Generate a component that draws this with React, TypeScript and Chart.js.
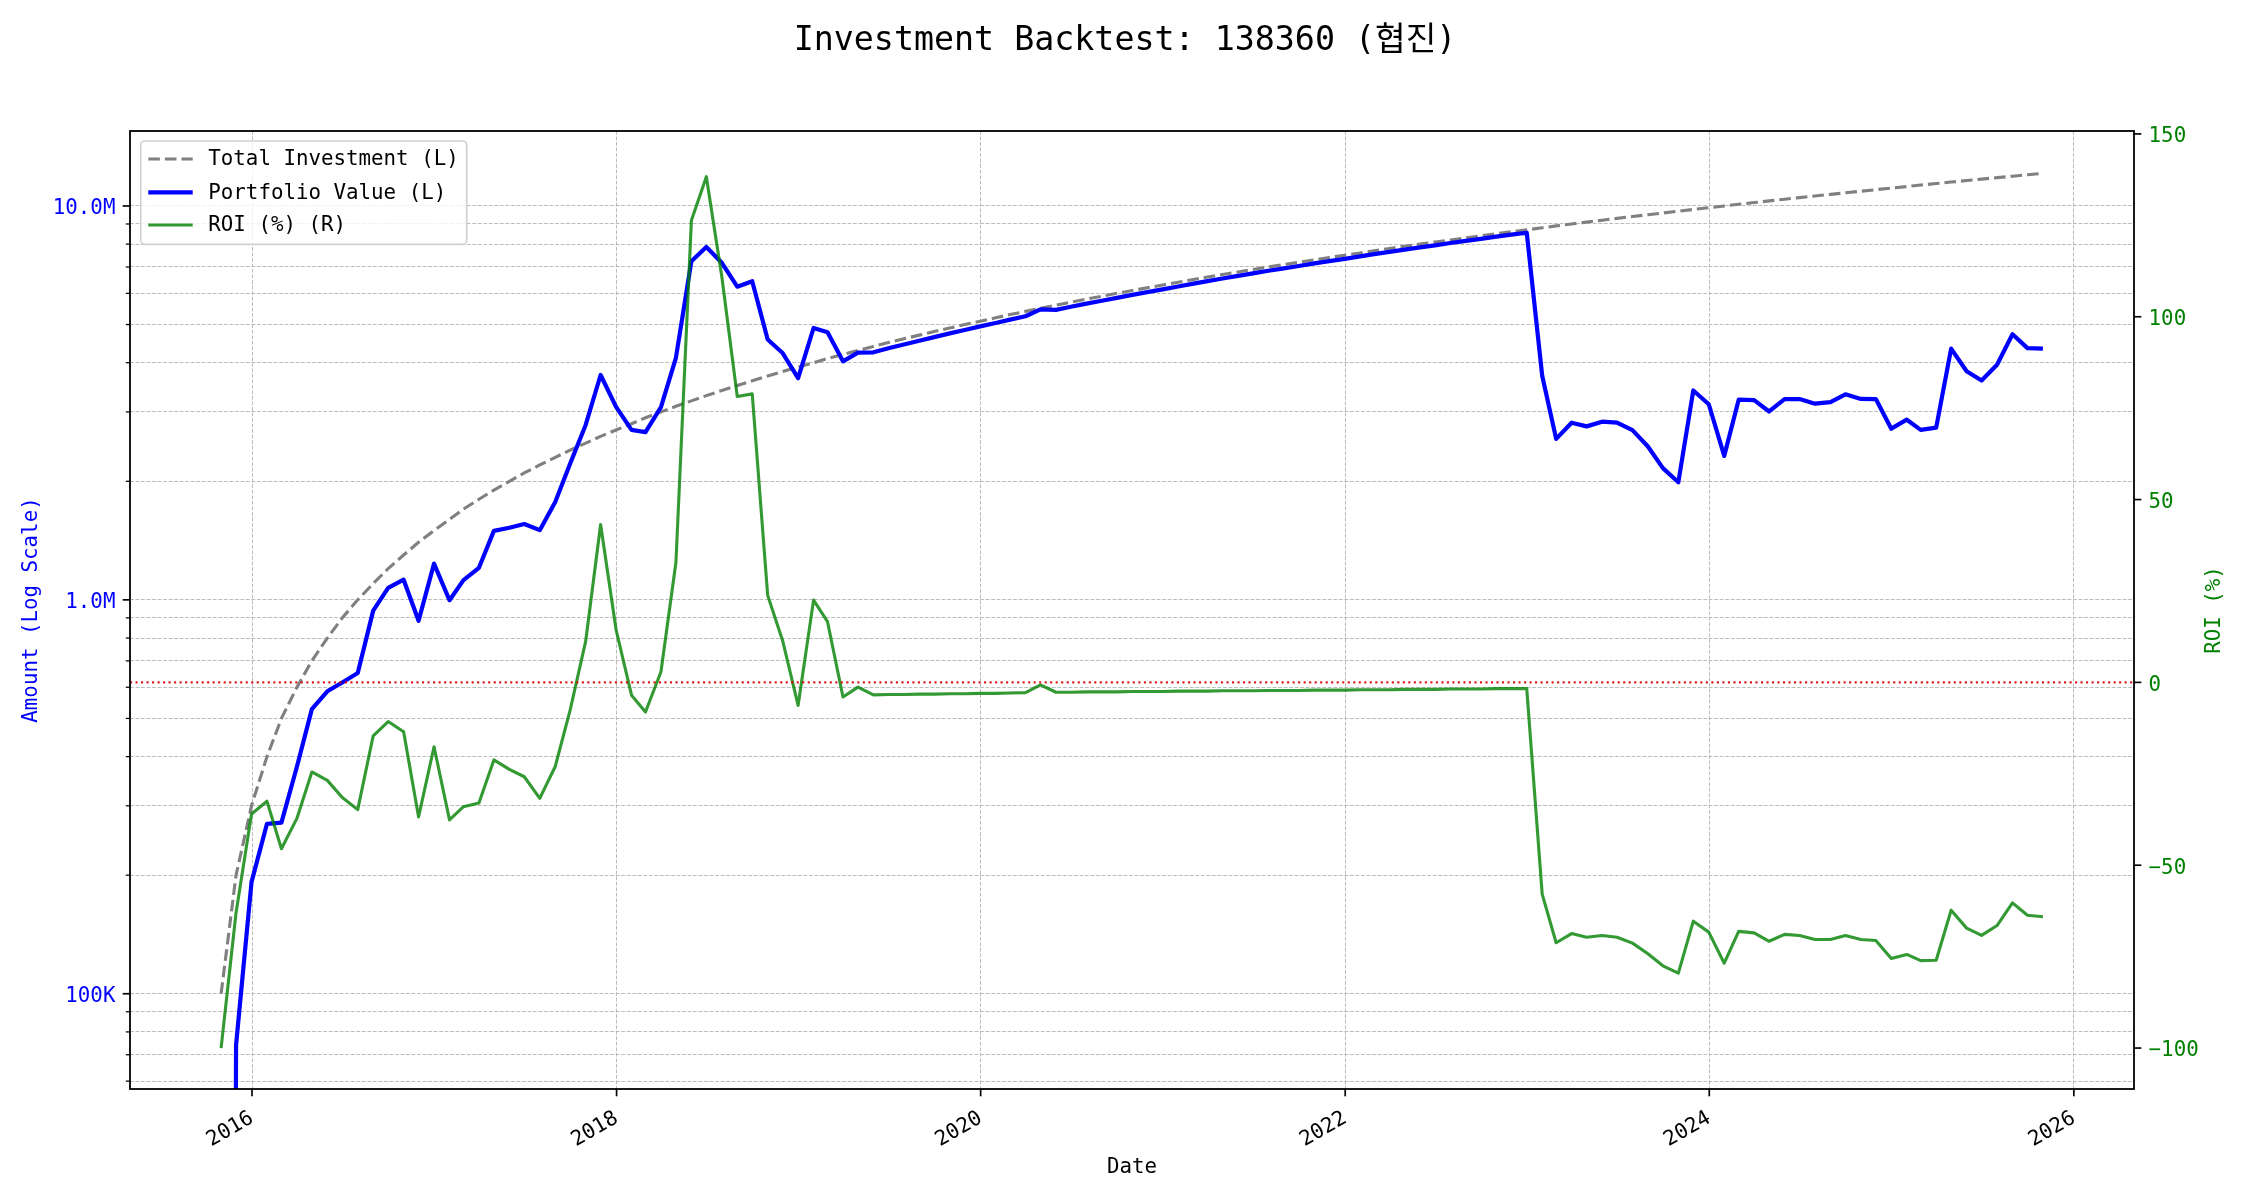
import React, { useEffect, useRef } from 'react';
import { Chart, registerables } from 'chart.js';

Chart.register(...registerables);

const TITLE = 'Investment Backtest: 138360 (협진)';
const X_TITLE = 'Date';
const Y_LEFT_TITLE = 'Amount (Log Scale)';
const Y_RIGHT_TITLE = 'ROI (%)';
const SERIES_LABELS = ['Total Investment (L)', 'Portfolio Value (L)', 'ROI (%) (R)'];

// Month-end observation dates
const months = [
  '2015-10', '2015-11', '2015-12',
  '2016-01', '2016-02', '2016-03', '2016-04', '2016-05', '2016-06', '2016-07', '2016-08', '2016-09', '2016-10', '2016-11', '2016-12',
  '2017-01', '2017-02', '2017-03', '2017-04', '2017-05', '2017-06', '2017-07', '2017-08', '2017-09', '2017-10', '2017-11', '2017-12',
  '2018-01', '2018-02', '2018-03', '2018-04', '2018-05', '2018-06', '2018-07', '2018-08', '2018-09', '2018-10', '2018-11', '2018-12',
  '2019-01', '2019-02', '2019-03', '2019-04', '2019-05', '2019-06', '2019-07', '2019-08', '2019-09', '2019-10', '2019-11', '2019-12',
  '2020-01', '2020-02', '2020-03', '2020-04', '2020-05', '2020-06', '2020-07', '2020-08', '2020-09', '2020-10', '2020-11', '2020-12',
  '2021-01', '2021-02', '2021-03', '2021-04', '2021-05', '2021-06', '2021-07', '2021-08', '2021-09', '2021-10', '2021-11', '2021-12',
  '2022-01', '2022-02', '2022-03', '2022-04', '2022-05', '2022-06', '2022-07', '2022-08', '2022-09', '2022-10', '2022-11', '2022-12',
  '2023-01', '2023-02', '2023-03', '2023-04', '2023-05', '2023-06', '2023-07', '2023-08', '2023-09', '2023-10', '2023-11', '2023-12',
  '2024-01', '2024-02', '2024-03', '2024-04', '2024-05', '2024-06', '2024-07', '2024-08', '2024-09', '2024-10', '2024-11', '2024-12',
  '2025-01', '2025-02', '2025-03', '2025-04', '2025-05', '2025-06', '2025-07', '2025-08', '2025-09', '2025-10',
];

// Total invested (millions of won)
const totalInvestmentM = [
  0.1, 0.2, 0.3,
  0.4, 0.5, 0.6, 0.7, 0.8, 0.9, 1.0, 1.1, 1.2, 1.3, 1.4, 1.5,
  1.6, 1.7, 1.8, 1.9, 2.0, 2.1, 2.2, 2.3, 2.4, 2.5, 2.6, 2.7,
  2.8, 2.9, 3.0, 3.1, 3.2, 3.3, 3.4, 3.5, 3.6, 3.7, 3.8, 3.9,
  4.0, 4.1, 4.2, 4.3, 4.4, 4.5, 4.6, 4.7, 4.8, 4.9, 5.0, 5.1,
  5.2, 5.3, 5.4, 5.5, 5.6, 5.7, 5.8, 5.9, 6.0, 6.1, 6.2, 6.3,
  6.4, 6.5, 6.6, 6.7, 6.8, 6.9, 7.0, 7.1, 7.2, 7.3, 7.4, 7.5,
  7.6, 7.7, 7.8, 7.9, 8.0, 8.1, 8.2, 8.3, 8.4, 8.5, 8.6, 8.7,
  8.8, 8.9, 9.0, 9.1, 9.2, 9.3, 9.4, 9.5, 9.6, 9.7, 9.8, 9.9,
  10.0, 10.1, 10.2, 10.3, 10.4, 10.5, 10.6, 10.7, 10.8, 10.9, 11.0, 11.1,
  11.2, 11.3, 11.4, 11.5, 11.6, 11.7, 11.8, 11.9, 12.0, 12.1,
];

// Portfolio value (millions of won)
const portfolioValueM = [
  0, 0.074, 0.192,
  0.270, 0.272, 0.377, 0.528, 0.586, 0.617, 0.652, 0.939, 1.072, 1.125, 0.885, 1.236,
  0.998, 1.122, 1.206, 1.497, 1.524, 1.558, 1.503, 1.771, 2.220, 2.780, 3.723, 3.089,
  2.702, 2.665, 3.087, 4.117, 7.242, 7.864, 7.174, 6.237, 6.440, 4.581, 4.233, 3.654,
  4.900, 4.781, 4.032, 4.244, 4.250, 4.352, 4.448, 4.550, 4.646, 4.748, 4.845, 4.947,
  5.044, 5.146, 5.249, 5.462, 5.449, 5.546, 5.649, 5.747, 5.844, 5.948, 6.045, 6.143,
  6.246, 6.344, 6.442, 6.546, 6.644, 6.741, 6.846, 6.944, 7.042, 7.147, 7.245, 7.343,
  7.448, 7.546, 7.644, 7.750, 7.848, 7.946, 8.052, 8.151, 8.249, 8.356, 8.454, 8.552,
  3.705, 2.563, 2.817, 2.757, 2.834, 2.818, 2.698, 2.451, 2.160, 1.989, 3.401, 3.138,
  2.320, 3.222, 3.213, 3.008, 3.234, 3.234, 3.148, 3.178, 3.326, 3.237, 3.234, 2.720,
  2.867, 2.701, 2.736, 4.345, 3.805, 3.604, 3.953, 4.724, 4.356, 4.344,
];

// ROI (%)
const roiPct = [
  -100, -63.0, -36.0,
  -32.5, -45.5, -37.2, -24.5, -26.8, -31.5, -34.8, -14.6, -10.7, -13.5, -36.8, -17.6,
  -37.6, -34.0, -33.0, -21.2, -23.8, -25.8, -31.7, -23.0, -7.5, 11.2, 43.2, 14.4,
  -3.5, -8.1, 2.9, 32.8, 126.3, 138.3, 111.0, 78.2, 78.9, 23.8, 11.4, -6.3,
  22.5, 16.6, -4.0, -1.3, -3.4, -3.3, -3.3, -3.2, -3.2, -3.1, -3.1, -3.0,
  -3.0, -2.9, -2.8, -0.7, -2.7, -2.7, -2.6, -2.6, -2.6, -2.5, -2.5, -2.5,
  -2.4, -2.4, -2.4, -2.3, -2.3, -2.3, -2.2, -2.2, -2.2, -2.1, -2.1, -2.1,
  -2.0, -2.0, -2.0, -1.9, -1.9, -1.9, -1.8, -1.8, -1.8, -1.7, -1.7, -1.7,
  -57.9, -71.2, -68.7, -69.7, -69.2, -69.7, -71.3, -74.2, -77.5, -79.5, -65.3, -68.3,
  -76.8, -68.1, -68.5, -70.8, -68.9, -69.2, -70.3, -70.3, -69.2, -70.3, -70.6, -75.5,
  -74.4, -76.1, -76.0, -62.3, -67.2, -69.2, -66.5, -60.3, -63.7, -64.1,
];

const xTickYears = [2016, 2018, 2020, 2022, 2024, 2026];
const amountMajorTicks = [100000, 1000000, 10000000];
const amountMajorLabels = ['100K', '1.0M', '10.0M'];
const amountMinorTicks = [
  60000, 70000, 80000, 90000,
  200000, 300000, 400000, 500000, 600000, 700000, 800000, 900000,
  2000000, 3000000, 4000000, 5000000, 6000000, 7000000, 8000000, 9000000,
];
const roiTicks = [-100, -50, 0, 50, 100, 150];

const FONT = "'DejaVu Sans Mono', 'Noto Sans CJK KR', monospace";
const GRID_COLOR = 'rgba(176,176,176,0.85)';
const GRID_DASH = [3.85, 1.67];
const INV_COLOR = '#808080';
const PV_COLOR = '#0000ff';
const ROI_COLOR = 'rgba(0,128,0,0.8)';
const ZERO_COLOR = 'rgba(220,0,0,0.9)';

function monthEnd(s: string): number {
  const [y, m] = s.split('-').map(Number);
  return Date.UTC(y, m, 0);
}

const decorPlugin = {
  id: 'decor',
  afterDraw(chart: any) {
    const { ctx, chartArea: a, scales } = chart;
    ctx.save();

    const line = (x1: number, y1: number, x2: number, y2: number, w: number, c = '#000') => {
      ctx.beginPath();
      ctx.strokeStyle = c;
      ctx.lineWidth = w;
      ctx.moveTo(x1, y1);
      ctx.lineTo(x2, y2);
      ctx.stroke();
    };

    // tick marks
    const major = 7.3, minor = 4.2;
    xTickYears.forEach((y) => {
      const px = scales.x.getPixelForValue(Date.UTC(y, 0, 1));
      line(px, a.bottom, px, a.bottom + major, 1.67);
    });
    amountMajorTicks.forEach((v) => {
      const py = scales.y.getPixelForValue(v);
      line(a.left - major, py, a.left, py, 1.67);
    });
    amountMinorTicks.forEach((v) => {
      const py = scales.y.getPixelForValue(v);
      line(a.left - minor, py, a.left, py, 1.25);
    });
    roiTicks.forEach((v) => {
      const py = scales.y1.getPixelForValue(v);
      line(a.right, py, a.right + major, py, 1.67);
    });

    // frame
    ctx.strokeStyle = '#000';
    ctx.lineWidth = 1.8;
    ctx.strokeRect(a.left, a.top, a.right - a.left, a.bottom - a.top);

    // title
    ctx.fillStyle = '#000';
    ctx.textAlign = 'center';
    ctx.textBaseline = 'middle';
    ctx.font = `33.3px ${FONT}`;
    ctx.fillText(TITLE, 1125, 41);

    // axis titles
    ctx.font = `20.8px ${FONT}`;
    ctx.fillText(X_TITLE, (a.left + a.right) / 2, 1168);
    const midY = (a.top + a.bottom) / 2;
    ctx.save();
    ctx.translate(31.6, midY);
    ctx.rotate(-Math.PI / 2);
    ctx.fillStyle = '#0000ff';
    ctx.fillText(Y_LEFT_TITLE, 0, 0);
    ctx.restore();
    ctx.save();
    ctx.translate(2214.5, midY);
    ctx.rotate(-Math.PI / 2);
    ctx.fillStyle = '#008000';
    ctx.fillText(Y_RIGHT_TITLE, 0, 0);
    ctx.restore();

    // legend
    const bx = a.left + 10.7, by = a.top + 10, bw = 326, bh = 103.3, r = 4;
    ctx.beginPath();
    ctx.moveTo(bx + r, by);
    ctx.lineTo(bx + bw - r, by);
    ctx.arcTo(bx + bw, by, bx + bw, by + r, r);
    ctx.lineTo(bx + bw, by + bh - r);
    ctx.arcTo(bx + bw, by + bh, bx + bw - r, by + bh, r);
    ctx.lineTo(bx + r, by + bh);
    ctx.arcTo(bx, by + bh, bx, by + bh - r, r);
    ctx.lineTo(bx, by + r);
    ctx.arcTo(bx, by, bx + r, by, r);
    ctx.closePath();
    ctx.fillStyle = 'rgba(255,255,255,0.8)';
    ctx.fill();
    ctx.strokeStyle = 'rgba(204,204,204,0.9)';
    ctx.lineWidth = 1.67;
    ctx.stroke();

    const rows = [by + 18, by + 51.3, by + 84];
    const hx1 = bx + 7.6, hx2 = bx + 52;
    const styles = [
      { c: INV_COLOR, w: 3.1, d: [11.6, 5] },
      { c: PV_COLOR, w: 4.2, d: [] as number[] },
      { c: ROI_COLOR, w: 3.1, d: [] as number[] },
    ];
    rows.forEach((ry, i) => {
      ctx.save();
      ctx.setLineDash(styles[i].d);
      ctx.lineCap = 'butt';
      line(hx1, ry, hx2, ry, styles[i].w, styles[i].c);
      ctx.restore();
      ctx.fillStyle = '#000';
      ctx.textAlign = 'left';
      ctx.textBaseline = 'middle';
      ctx.font = `20.8px ${FONT}`;
      ctx.fillText(SERIES_LABELS[i], bx + 67.6, ry + 1);
    });

    ctx.restore();
  },
};

export default function App() {
  const ref = useRef<HTMLCanvasElement>(null);

  useEffect(() => {
    document.body.style.margin = '0';
    document.body.style.overflow = 'hidden';
    const canvas = ref.current!;
    const xs = months.map(monthEnd);
    const first = xs[0];
    const last = xs[xs.length - 1];
    const span = last - first;
    const xMin = first - 0.05 * span;
    const xMax = last + 0.05 * span;

    const invData = xs.map((x, i) => ({ x, y: totalInvestmentM[i] * 1e6 }));
    // a zero value sits at -infinity on a log axis; use a tiny positive stand-in
    const pvData = xs.map((x, i) => ({ x, y: Math.max(portfolioValueM[i] * 1e6, 1e-6) }));
    const roiData = xs.map((x, i) => ({ x, y: roiPct[i] }));

    const tickFont = { family: FONT, size: 20.8 };
    const majorLabel = (v: number) => {
      const i = amountMajorTicks.findIndex((t) => Math.abs(t - v) / t < 1e-6);
      return i >= 0 ? amountMajorLabels[i] : '';
    };

    const chart = new Chart(canvas, {
      type: 'line',
      data: {
        datasets: [
          {
            label: SERIES_LABELS[0], data: invData, yAxisID: 'y', borderColor: INV_COLOR,
            borderWidth: 3.1, borderDash: [11.6, 5], pointRadius: 0, tension: 0, order: 3,
            borderCapStyle: 'butt', borderJoinStyle: 'round', fill: false,
          },
          {
            label: SERIES_LABELS[1], data: pvData, yAxisID: 'y', borderColor: PV_COLOR,
            borderWidth: 4.2, pointRadius: 0, tension: 0, order: 2,
            borderCapStyle: 'butt', borderJoinStyle: 'round', fill: false,
          },
          {
            label: SERIES_LABELS[2], data: roiData, yAxisID: 'y1', borderColor: ROI_COLOR,
            borderWidth: 3.1, pointRadius: 0, tension: 0, order: 1,
            borderCapStyle: 'butt', borderJoinStyle: 'round', fill: false,
          },
          {
            label: 'zero', data: [{ x: xMin, y: 0 }, { x: xMax, y: 0 }], yAxisID: 'y1',
            borderColor: ZERO_COLOR, borderWidth: 2.08, borderDash: [2.08, 3.43],
            pointRadius: 0, order: 0, borderCapStyle: 'butt', fill: false,
          },
        ],
      },
      options: {
        responsive: false,
        animation: false,
        devicePixelRatio: 1,
        events: [],
        layout: { padding: { top: 131, left: 0, right: 0, bottom: 0 } },
        plugins: {
          legend: { display: false },
          title: { display: false },
          tooltip: { enabled: false },
        },
        scales: {
          x: {
            type: 'linear',
            position: 'bottom',
            min: xMin,
            max: xMax,
            afterBuildTicks: (s: any) => {
              s.ticks = xTickYears.map((y) => ({ value: Date.UTC(y, 0, 1) }));
            },
            afterFit: (s: any) => {
              s.height = 111;
              s.paddingLeft = 0;
              s.paddingRight = 0;
            },
            ticks: {
              autoSkip: false,
              minRotation: 30,
              maxRotation: 30,
              padding: 17,
              color: '#000',
              font: tickFont,
              callback: (v: any) => String(new Date(Number(v)).getUTCFullYear()),
            },
            grid: { color: GRID_COLOR, lineWidth: 1, drawTicks: false },
            border: { display: false, dash: GRID_DASH },
          },
          y: {
            type: 'logarithmic',
            position: 'left',
            min: 57300,
            max: 15.5e6,
            afterBuildTicks: (s: any) => {
              s.ticks = [...amountMinorTicks, ...amountMajorTicks]
                .sort((p, q) => p - q)
                .map((v) => ({ value: v }));
            },
            afterFit: (s: any) => {
              s.width = 130;
              s.paddingTop = 0;
              s.paddingBottom = 0;
            },
            ticks: {
              autoSkip: false,
              padding: 14.6,
              labelOffset: 3,
              color: '#0000ff',
              font: tickFont,
              callback: (v: any) => majorLabel(Number(v)),
            },
            grid: { color: GRID_COLOR, lineWidth: 1, drawTicks: false },
            border: { display: false, dash: GRID_DASH },
          },
          y1: {
            type: 'linear',
            position: 'right',
            min: -111.2,
            max: 150.8,
            afterBuildTicks: (s: any) => {
              s.ticks = roiTicks.map((v) => ({ value: v }));
            },
            afterFit: (s: any) => {
              s.width = 116;
              s.paddingTop = 0;
              s.paddingBottom = 0;
            },
            ticks: {
              autoSkip: false,
              padding: 14.6,
              labelOffset: 3,
              color: '#008000',
              font: tickFont,
              callback: (v: any) => {
                const n = Number(v);
                return n < 0 ? '\u2212' + Math.abs(n) : String(n);
              },
            },
            grid: { drawOnChartArea: false, drawTicks: false },
            border: { display: false },
          },
        },
      } as any,
      plugins: [decorPlugin],
    });

    return () => chart.destroy();
  }, []);

  return (
    <canvas
      ref={ref}
      width={2250}
      height={1200}
      style={{ display: 'block', width: 2250, height: 1200 }}
    />
  );
}
